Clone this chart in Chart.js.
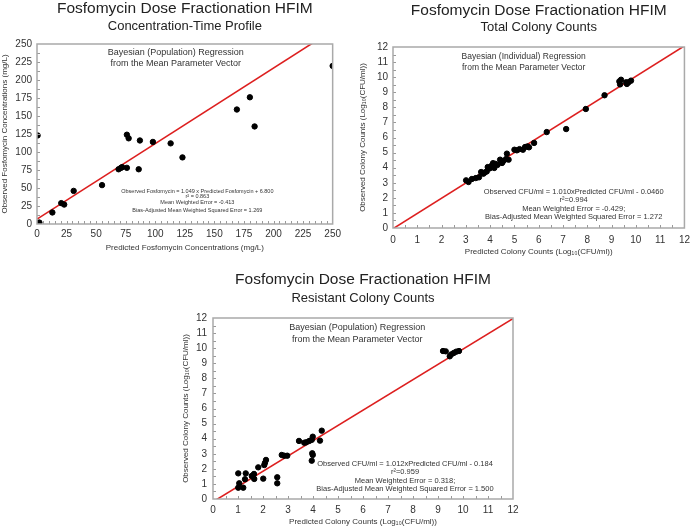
<!DOCTYPE html>
<html>
<head>
<meta charset="utf-8">
<script src="https://cdn.jsdelivr.net/npm/chart.js@4.4.1/dist/chart.umd.min.js"></script>
<style>
  body { margin: 0; background: #fff; width: 696px; height: 530px; position: relative; overflow: hidden; }
  canvas { position: absolute; }
</style>
</head>
<body>
<canvas id="concChart" width="345" height="262" style="left:0;top:0"></canvas>
<canvas id="totalChart" width="348" height="265" style="left:348px;top:0"></canvas>
<canvas id="resChart" width="345" height="262" style="left:180px;top:268px"></canvas>
<script>
// concentration-time profile (mg/L)
const concPred = [0.5, 2, 13, 20.5, 23, 31, 55, 69, 71, 72, 76, 76, 77.5, 86, 87, 98, 113, 123, 169, 180, 184, 250];
const concObs = [123, 2, 16, 29, 27, 46, 54, 76, 78, 79, 78, 124, 119, 76, 116, 114, 112, 92.5, 159, 176, 135.5, 219.6];
const concFitX = [0, 250];
const concFitY = [6.8, 269.05];

// total colony counts (log10 CFU/ml)
const totalPred = [3.01, 3.11, 3.25, 3.41, 3.54, 3.63, 3.72, 3.78, 3.86, 3.90, 3.98, 4.06, 4.12, 4.17, 4.22, 4.30, 4.41, 4.49,
  4.55, 4.66, 4.69, 4.76, 5.00, 5.10, 5.21, 5.35, 5.44, 5.54, 5.60, 5.81, 6.33, 7.13, 7.94, 8.71, 9.32, 9.39, 9.35, 9.60, 9.63, 9.70, 9.80];
const totalObs = [3.16, 3.05, 3.25, 3.31, 3.36, 3.71, 3.60, 3.68, 3.75, 4.04, 3.95, 4.13, 4.30, 3.98, 4.25, 4.18, 4.53, 4.31,
  4.45, 4.58, 4.93, 4.53, 5.19, 5.15, 5.23, 5.19, 5.37, 5.41, 5.35, 5.64, 6.36, 6.56, 7.89, 8.80, 9.72, 9.83, 9.52, 9.66, 9.55, 9.66, 9.77];
const totalFitX = [0, 12];
const totalFitY = [-0.046, 12.074];

// resistant colony counts (log10 CFU/ml)
const resPred = [1.01, 1.05, 1.01, 1.21, 1.31, 1.28, 1.55, 1.64, 1.65, 1.81, 2.01, 2.05, 2.12, 2.08, 2.57, 2.57, 2.75, 2.85, 2.97,
  3.44, 3.65, 3.73, 3.85, 3.95, 3.99, 3.97, 3.99, 3.95, 4.28, 4.35, 9.20, 9.31, 9.47, 9.53, 9.63, 9.73, 9.84];
const resObs = [1.70, 1.04, 0.75, 0.75, 1.70, 1.31, 1.53, 1.66, 1.33, 2.10, 1.35, 2.25, 2.59, 2.40, 1.44, 1.04, 2.92, 2.87, 2.87,
  3.85, 3.73, 3.76, 3.85, 3.92, 4.13, 3.03, 2.92, 2.54, 3.87, 4.53, 9.81, 9.79, 9.46, 9.59, 9.68, 9.77, 9.81];
const resFitX = [0, 12];
const resFitY = [-0.184, 11.96];

const mainTitle = 'Fosfomycin Dose Fractionation HFIM';
const fontFamily = '"Liberation Sans", Arial, sans-serif';

Chart.defaults.font.family = fontFamily;
Chart.defaults.color = '#333';

function toPoints(xs, ys) {
  return xs.map((x, i) => ({ x: x, y: ys[i] }));
}

// frame, inward minor ticks and the text notes inside the plot
const framePlugin = {
  id: 'frame',
  afterDatasetsDraw(chart, args, opts) {
    const ctx = chart.ctx;
    const a = chart.chartArea;
    const xs = chart.scales.x;
    const ys = chart.scales.y;
    ctx.save();
    ctx.strokeStyle = '#999';
    ctx.lineWidth = 1;
    ctx.beginPath();
    for (let v = opts.minorX; v < xs.max; v += opts.minorX) {
      const px = Math.round(xs.getPixelForValue(v)) + 0.5;
      ctx.moveTo(px, a.bottom);
      ctx.lineTo(px, a.bottom - 3);
    }
    for (let v = opts.minorY; v < ys.max; v += opts.minorY) {
      const py = Math.round(ys.getPixelForValue(v)) + 0.5;
      ctx.moveTo(a.left, py);
      ctx.lineTo(a.left + 3, py);
    }
    ctx.stroke();
    ctx.strokeStyle = '#a9a9a9';
    ctx.lineWidth = 1.5;
    ctx.strokeRect(a.left, a.top, a.right - a.left, a.bottom - a.top);

    ctx.fillStyle = '#333';
    ctx.textAlign = 'center';
    ctx.textBaseline = 'middle';
    opts.notes.forEach(n => {
      ctx.font = n.size + 'px ' + fontFamily;
      n.lines.forEach((t, i) => {
        ctx.fillText(t, xs.getPixelForValue(n.x), ys.getPixelForValue(n.y[i]));
      });
    });
    ctx.restore();
  }
};

function makeChart(id, c) {
  new Chart(document.getElementById(id), {
    type: 'scatter',
    data: {
      datasets: [{
        data: toPoints(c.px, c.py),
        backgroundColor: '#000',
        borderColor: '#000',
        pointRadius: 2.7,
        pointHoverRadius: 2.7
      }, {
        type: 'line',
        data: toPoints(c.fx, c.fy),
        borderColor: '#dd1f1f',
        borderWidth: 1.6,
        pointRadius: 0,
        fill: false
      }]
    },
    options: {
      responsive: false,
      animation: false,
      devicePixelRatio: 1,
      layout: { padding: { left: 0, right: c.right, top: 0, bottom: 0 } },
      plugins: {
        legend: { display: false },
        tooltip: { enabled: false },
        title: {
          display: true,
          fullSize: false,
          text: mainTitle,
          color: '#222',
          font: { size: 15.5, weight: 'normal', lineHeight: '17px' },
          padding: { top: c.titleTop, bottom: 0 }
        },
        subtitle: {
          display: true,
          fullSize: false,
          text: c.subtitle,
          color: '#222',
          font: { size: 13, lineHeight: '15px' },
          padding: { top: c.subTop, bottom: c.subBottom }
        },
        frame: { minorX: c.minorX, minorY: c.minorY, notes: c.notes }
      },
      scales: {
        x: {
          type: 'linear',
          min: 0,
          max: c.xMax,
          grid: { display: false, drawTicks: false },
          border: { display: false },
          ticks: { stepSize: c.step, padding: c.xTickPad, font: { size: 10 }, color: '#333' },
          title: { display: true, text: c.xTitle, font: { size: 8 }, padding: { top: 0, bottom: c.xTitlePad } },
          afterFit(s) { s.height = c.xHeight; }
        },
        y: {
          type: 'linear',
          min: 0,
          max: c.xMax,
          grid: { display: false, drawTicks: false },
          border: { display: false },
          ticks: { stepSize: c.step, padding: c.yTickPad, font: { size: 10 }, color: '#333' },
          title: { display: true, text: c.yTitle, font: { size: 8 }, padding: { top: c.yTitlePad, bottom: 0 } },
          afterFit(s) { s.width = c.yWidth; }
        }
      }
    },
    plugins: [framePlugin]
  });
}

makeChart('concChart', {
  px: concPred, py: concObs, fx: concFitX, fy: concFitY,
  subtitle: 'Concentration-Time Profile',
  xTitle: 'Predicted Fosfomycin Concentrations (mg/L)',
  yTitle: 'Observed Fosfomycin Concentrations (mg/L)',
  xMax: 250, step: 25, minorX: 5, minorY: 12.5,
  right: 10, titleTop: 0.5, subTop: 1, subBottom: 10.5,
  xHeight: 38, xTickPad: 4, xTitlePad: 9,
  yWidth: 37, yTickPad: 5, yTitlePad: 0,
  notes: [
    { size: 9, x: 117.4, y: [238, 223.2], lines: ['Bayesian (Population) Regression', 'from the Mean Parameter Vector'] },
    { size: 5.5, x: 135.6, y: [45.8, 37.9, 30.1, 19.4], lines: [
      'Observed Fosfomycin = 1.049 x Predicted Fosfomycin + 6.800',
      'r\u00b2 = 0.863',
      'Mean Weighted Error = -0.413',
      'Bias-Adjusted Mean Weighted Squared Error = 1.269'] }
  ]
});

makeChart('totalChart', {
  px: totalPred, py: totalObs, fx: totalFitX, fy: totalFitY,
  subtitle: 'Total Colony Counts',
  xTitle: 'Predicted Colony Counts (Log\u2081\u2080(CFU/ml))',
  yTitle: 'Observed Colony Counts (Log\u2081\u2080(CFU/ml))',
  xMax: 12, step: 1, minorX: 0.5, minorY: 0.5,
  right: 6, titleTop: 2.5, subTop: 0.5, subBottom: 12,
  xHeight: 37, xTickPad: 6, xTitlePad: 8,
  yWidth: 45, yTickPad: 5, yTitlePad: 10,
  notes: [
    { size: 8.5, x: 5.38, y: [11.38, 10.61], lines: ['Bayesian (Individual) Regression', 'from the Mean Parameter Vector'] },
    { size: 7.5, x: 7.44, y: [2.36, 1.83, 1.28, 0.73], lines: [
      'Observed CFU/ml = 1.010xPredicted CFU/ml - 0.0460',
      'r\u00b2=0.994',
      'Mean Weighted Error = -0.429;',
      'Bias-Adjusted Mean Weighted Squared Error = 1.272'] }
  ]
});

makeChart('resChart', {
  px: resPred, py: resObs, fx: resFitX, fy: resFitY,
  subtitle: 'Resistant Colony Counts',
  xTitle: 'Predicted Colony Counts (Log\u2081\u2080(CFU/ml))',
  yTitle: 'Observed Colony Counts (Log\u2081\u2080(CFU/ml))',
  xMax: 12, step: 1, minorX: 0.5, minorY: 0.5,
  right: 12, titleTop: 3.5, subTop: 2, subBottom: 12.5,
  xHeight: 31, xTickPad: 5, xTitlePad: 3,
  yWidth: 33, yTickPad: 6, yTitlePad: 1,
  notes: [
    { size: 9, x: 5.77, y: [11.34, 10.59], lines: ['Bayesian (Population) Regression', 'from the Mean Parameter Vector'] },
    { size: 7.5, x: 7.68, y: [2.35, 1.79, 1.19, 0.64], lines: [
      'Observed CFU/ml = 1.012xPredicted CFU/ml - 0.184',
      'r\u00b2=0.959',
      'Mean Weighted Error = 0.318;',
      'Bias-Adjusted Mean Weighted Squared Error = 1.500'] }
  ]
});
</script>
</body>
</html>
